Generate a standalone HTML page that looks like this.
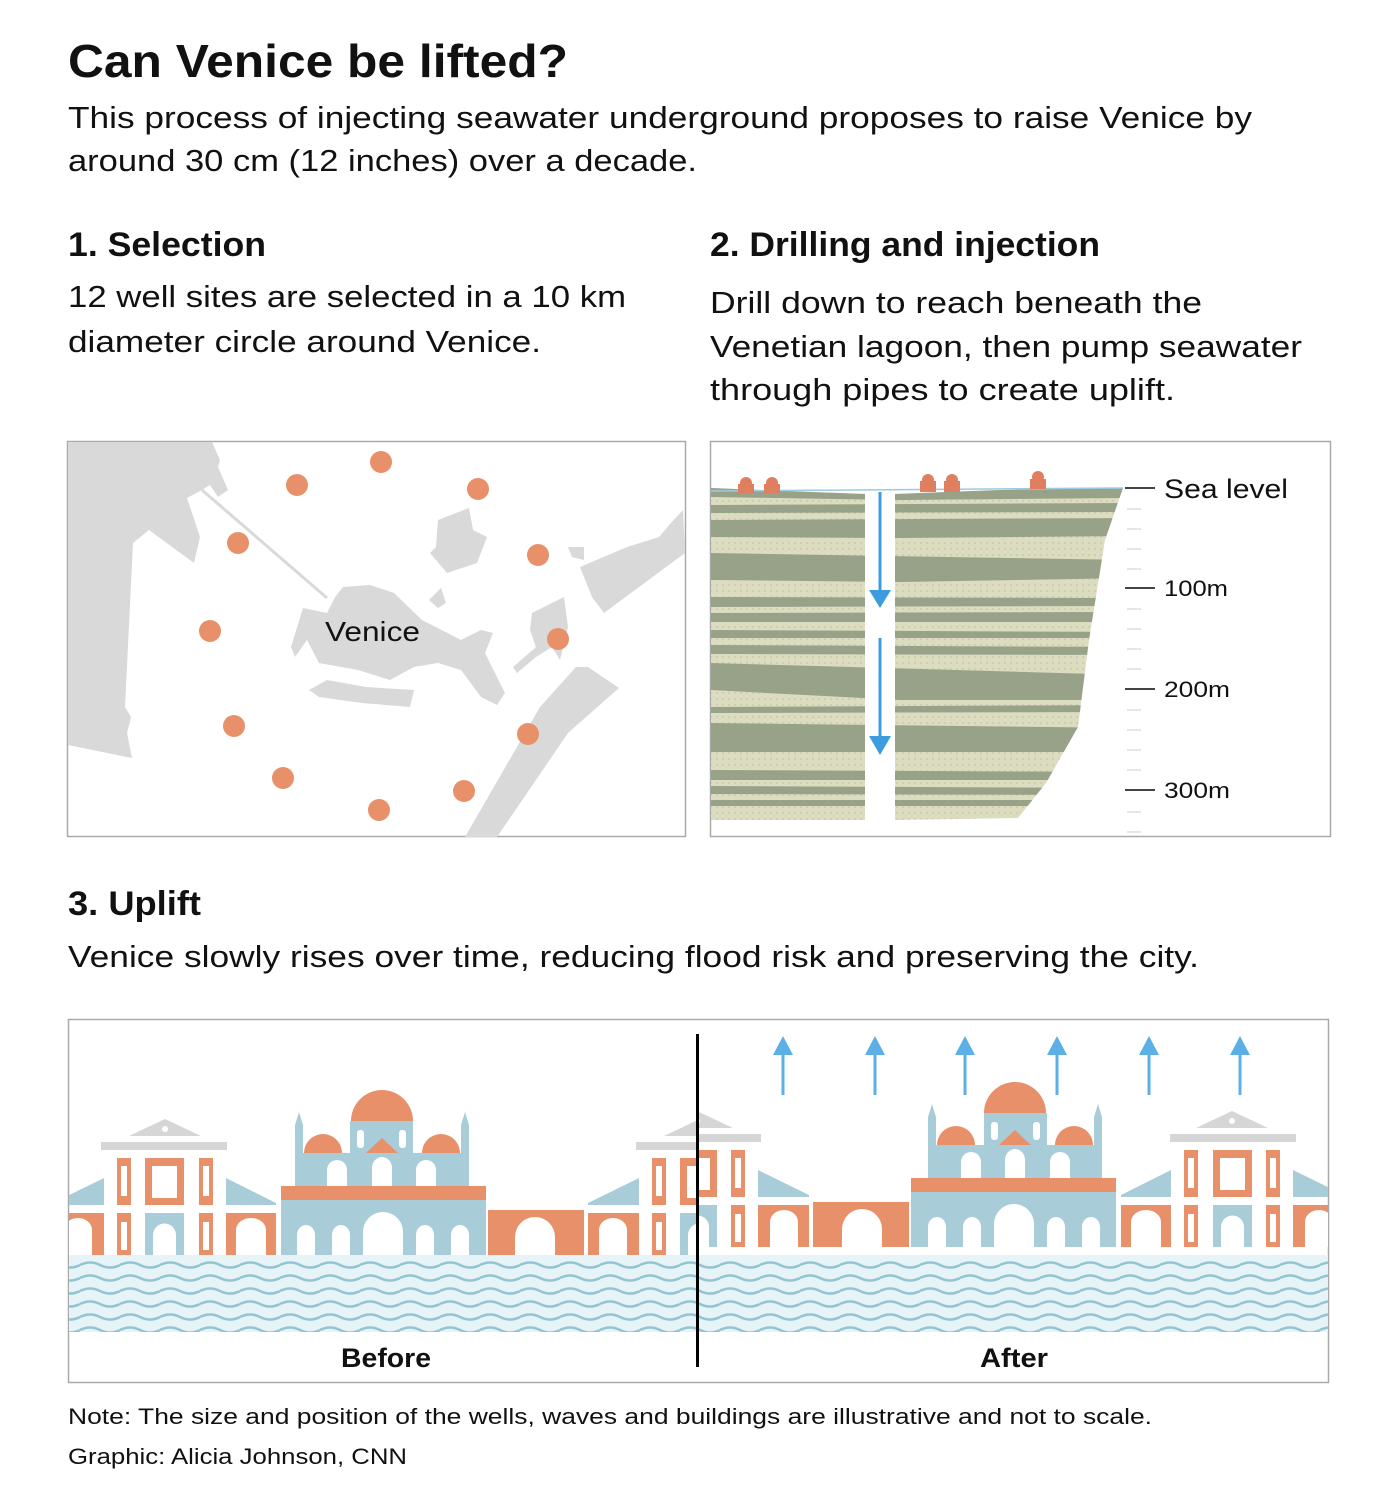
<!DOCTYPE html>
<html><head><meta charset="utf-8"><style>
html,body{margin:0;padding:0;background:#fff;}
svg{display:block;}
text{font-family:"Liberation Sans",sans-serif;fill:#111;}
</style></head><body>
<svg width="1398" height="1509" viewBox="0 0 1398 1509" xmlns="http://www.w3.org/2000/svg">
<defs>
<pattern id="dots" width="6" height="6" patternUnits="userSpaceOnUse">
<rect width="6" height="6" fill="#dcdcc0"/><circle cx="3" cy="3" r="0.9" fill="#c4c6a4"/>
</pattern>
<pattern id="wave" width="40" height="13" patternUnits="userSpaceOnUse" y="1259">
<path d="M0 6 Q10 1 20 6 T40 6" fill="none" stroke="#93c4d2" stroke-width="2.6"/>
</pattern>
<clipPath id="geo">
<path d="M711 488 L760 490 L865 494 L865 820 L711 820 Z"/>
<path d="M895 494 L1000 490 L1123 488 L1105 540 L1089 640 L1078 727 L1046 783 L1018 818 L895 820 Z"/>
</clipPath>
<clipPath id="cb"><rect x="69" y="1020" width="628" height="362"/></clipPath>
<clipPath id="ca"><rect x="697" y="1020" width="631" height="362"/></clipPath>
<g id="palace">
<polygon points="129,1136 165,1119 201,1136" fill="#d6d6d6"/>
<circle cx="165" cy="1129" r="3" fill="#fff"/>
<rect x="101" y="1142" width="126" height="8" fill="#d6d6d6"/>
<rect x="117" y="1158" width="14" height="47" fill="#e8906a"/>
<rect x="121" y="1166" width="6" height="30" fill="#fff"/>
<rect x="145" y="1158" width="39" height="47" fill="#e8906a"/>
<rect x="152" y="1166" width="25" height="32" fill="#fff"/>
<rect x="199" y="1158" width="14" height="47" fill="#e8906a"/>
<rect x="203" y="1166" width="6" height="30" fill="#fff"/>
<polygon points="53,1203 104,1178 104,1205 53,1205" fill="#a8cdd8"/>
<polygon points="226,1178 276,1203 276,1205 226,1205" fill="#a8cdd8"/>
<rect x="53" y="1213" width="51" height="42" fill="#e8906a"/>
<path d="M64 1255 V1230 A14 12 0 0 1 92 1230 V1255 Z" fill="#fff"/>
<rect x="117" y="1213" width="14" height="42" fill="#e8906a"/>
<rect x="121" y="1222" width="6" height="28" fill="#fff"/>
<rect x="145" y="1213" width="39" height="42" fill="#a8cdd8"/>
<path d="M153 1255 V1235 A11 11 0 0 1 176 1235 V1255 Z" fill="#fff"/>
<rect x="199" y="1213" width="14" height="42" fill="#e8906a"/>
<rect x="203" y="1222" width="6" height="28" fill="#fff"/>
<rect x="226" y="1213" width="50" height="42" fill="#e8906a"/>
<path d="M236 1255 V1230 A15 12 0 0 1 266 1230 V1255 Z" fill="#fff"/>
</g>
<g id="sky">
<use href="#palace"/>
<use href="#palace" transform="translate(535,0)"/>
<!-- church -->
<circle cx="382" cy="1121" r="31" fill="#e8906a"/>
<circle cx="323" cy="1153" r="19" fill="#e8906a"/>
<circle cx="441" cy="1153" r="19" fill="#e8906a"/>
<rect x="350" y="1121" width="63" height="32" fill="#a8cdd8"/>
<rect x="357" y="1130" width="7" height="18" rx="3" fill="#fff"/>
<rect x="399" y="1130" width="7" height="18" rx="3" fill="#fff"/>
<polygon points="366,1153 382,1138 398,1153" fill="#e8906a"/>
<path d="M295 1187 V1125 L299 1112 L303 1125 V1187 Z M461 1187 V1125 L465 1112 L469 1125 V1187 Z" fill="#a8cdd8"/>
<rect x="296" y="1153" width="172" height="34" fill="#a8cdd8"/>
<path d="M327 1187 V1170 A10 10 0 0 1 347 1170 V1187 Z M372 1187 V1168 A10 11 0 0 1 392 1168 V1187 Z M416 1187 V1170 A10 10 0 0 1 436 1170 V1187 Z" fill="#fff"/>
<rect x="281" y="1186" width="205" height="14" fill="#e8906a"/>
<rect x="281" y="1200" width="205" height="55" fill="#a8cdd8"/>
<path d="M297 1255 V1235 A9 10 0 0 1 315 1235 V1255 Z M332 1255 V1235 A9 10 0 0 1 350 1235 V1255 Z M363 1255 V1232 A20 20 0 0 1 403 1232 V1255 Z M416 1255 V1235 A9 10 0 0 1 434 1235 V1255 Z M451 1255 V1235 A9 10 0 0 1 469 1235 V1255 Z" fill="#fff"/>
<!-- bridge -->
<rect x="488" y="1210" width="96" height="45" fill="#e8906a"/>
<path d="M515 1255 V1237 A20 20 0 0 1 555 1237 V1255 Z" fill="#fff"/>
</g>
</defs>

<!-- Title & intro -->
<text x="68" y="77" font-size="46" font-weight="bold" textLength="500" lengthAdjust="spacingAndGlyphs">Can Venice be lifted?</text>
<text x="68" y="128" font-size="31" textLength="1184" lengthAdjust="spacingAndGlyphs">This process of injecting seawater underground proposes to raise Venice by</text>
<text x="68" y="171" font-size="31" textLength="629" lengthAdjust="spacingAndGlyphs">around 30 cm (12 inches) over a decade.</text>

<text x="68" y="256" font-size="34" font-weight="bold" textLength="198" lengthAdjust="spacingAndGlyphs">1. Selection</text>
<text x="710" y="256" font-size="34" font-weight="bold" textLength="390" lengthAdjust="spacingAndGlyphs">2. Drilling and injection</text>
<text x="68" y="307" font-size="31" textLength="558" lengthAdjust="spacingAndGlyphs">12 well sites are selected in a 10 km</text>
<text x="68" y="352" font-size="31" textLength="473" lengthAdjust="spacingAndGlyphs">diameter circle around Venice.</text>
<text x="710" y="313" font-size="31" textLength="492" lengthAdjust="spacingAndGlyphs">Drill down to reach beneath the</text>
<text x="710" y="357" font-size="31" textLength="592" lengthAdjust="spacingAndGlyphs">Venetian lagoon, then pump seawater</text>
<text x="710" y="400" font-size="31" textLength="465" lengthAdjust="spacingAndGlyphs">through pipes to create uplift.</text>

<!-- Map panel -->
<rect x="67.5" y="441.5" width="618" height="395" fill="#fff" stroke="#aaa" stroke-width="1.5"/>
<g fill="#d9d9d9">
<polygon points="68,442 212,442 220,460 218,467 228,490 218,497 210,485 202,490 187,498 200,537 194,563 149,530 133,543 125,707 131,717 127,733 132,758 68,745"/>
<polygon points="335,597 343,587 370,585 394,593 422,620 461,640 481,630 493,633 485,653 505,693 497,705 481,697 461,670 438,663 414,667 390,680 358,670 319,663 307,640 295,657 291,647 303,608 327,613"/>
<polygon points="309,690 327,680 366,687 414,690 410,707 362,703 319,697"/>
<polygon points="438,520 469,508 473,530 487,537 477,563 447,573 430,553 436,547"/>
<polygon points="429,600 441,588 446,603 438,608"/>
<polygon points="683,510 685,553 604,613 592,597 580,567 627,547 659,537 671,523"/>
<polygon points="568,547 584,547 584,560 572,557"/>
<polygon points="532,613 564,597 568,627 560,660 552,647 536,657 517,673 513,667 536,647 530,630"/>
<polygon points="540,707 576,667 588,667 619,688 568,733 497,837 465,837"/>
</g>
<line x1="202" y1="490" x2="327" y2="598" stroke="#d9d9d9" stroke-width="3"/>
<g fill="#e8906a">
<circle cx="381" cy="462" r="11"/><circle cx="297" cy="485" r="11"/><circle cx="478" cy="489" r="11"/>
<circle cx="238" cy="543" r="11"/><circle cx="538" cy="555" r="11"/><circle cx="210" cy="631" r="11"/>
<circle cx="558" cy="639" r="11"/><circle cx="234" cy="726" r="11"/><circle cx="528" cy="734" r="11"/>
<circle cx="283" cy="778" r="11"/><circle cx="464" cy="791" r="11"/><circle cx="379" cy="810" r="11"/>
</g>
<text x="325" y="641" font-size="28" textLength="95" lengthAdjust="spacingAndGlyphs">Venice</text>

<!-- Geology panel -->
<rect x="710.5" y="441.5" width="620" height="395" fill="#fff" stroke="#aaa" stroke-width="1.5"/>
<g clip-path="url(#geo)">
<rect x="711" y="480" width="420" height="345" fill="url(#dots)"/>
<g fill="#98a288">
<polygon points="711,488 1130,488 1130,498 900,500 711,497"/>
<polygon points="711,505 1130,503 1130,512 711,513"/>
<polygon points="711,520 1130,518 1130,536 900,538 711,537"/>
<polygon points="711,553 1130,560 1130,578 900,582 711,580"/>
<polygon points="711,597 1130,598 1130,606 711,607"/>
<polygon points="711,613 1130,612 1130,622 711,622"/>
<polygon points="711,630 1130,632 1130,638 711,638"/>
<polygon points="711,645 1130,647 1130,655 711,654"/>
<polygon points="711,663 1130,675 1130,700 900,700 711,690"/>
<polygon points="711,707 1130,705 1130,712 711,713"/>
<polygon points="711,723 1130,728 1130,752 900,752 711,752"/>
<polygon points="711,770 1130,772 1130,780 711,780"/>
<polygon points="711,786 1130,788 1130,795 711,794"/>
<polygon points="711,800 1130,800 1130,806 711,806"/>
</g>
</g>
<line x1="711" y1="491" x2="1123" y2="488" stroke="#9ccbe0" stroke-width="1.5"/>
<g fill="#e07f5f">
<circle cx="746" cy="483" r="6"/><rect x="738" y="484" width="16" height="9"/>
<circle cx="772" cy="483" r="6"/><rect x="764" y="484" width="16" height="9"/>
<circle cx="928" cy="480" r="6"/><rect x="920" y="481" width="16" height="11"/>
<circle cx="952" cy="480" r="6"/><rect x="944" y="481" width="16" height="11"/>
<circle cx="1038" cy="477" r="6"/><rect x="1030" y="479" width="16" height="10"/>
</g>
<g stroke="#3d9be0" stroke-width="3" fill="#3d9be0">
<line x1="880" y1="492" x2="880" y2="595"/><polygon points="869,590 891,590 880,608" stroke="none"/>
<line x1="880" y1="638" x2="880" y2="740"/><polygon points="869,736 891,736 880,755" stroke="none"/>
</g>
<g stroke="#ddd" stroke-width="1.5">
<line x1="1127" y1="509" x2="1141" y2="509"/><line x1="1127" y1="529" x2="1141" y2="529"/><line x1="1127" y1="549" x2="1141" y2="549"/><line x1="1127" y1="569" x2="1141" y2="569"/>
<line x1="1127" y1="609" x2="1141" y2="609"/><line x1="1127" y1="629" x2="1141" y2="629"/><line x1="1127" y1="649" x2="1141" y2="649"/><line x1="1127" y1="669" x2="1141" y2="669"/>
<line x1="1127" y1="710" x2="1141" y2="710"/><line x1="1127" y1="730" x2="1141" y2="730"/><line x1="1127" y1="750" x2="1141" y2="750"/><line x1="1127" y1="770" x2="1141" y2="770"/>
<line x1="1127" y1="812" x2="1141" y2="812"/><line x1="1127" y1="832" x2="1141" y2="832"/>
</g>
<g stroke="#444" stroke-width="2">
<line x1="1125" y1="488" x2="1155" y2="488"/><line x1="1125" y1="588" x2="1155" y2="588"/>
<line x1="1125" y1="689" x2="1155" y2="689"/><line x1="1125" y1="790" x2="1155" y2="790"/>
</g>
<text x="1164" y="498" font-size="27" textLength="124" lengthAdjust="spacingAndGlyphs">Sea level</text>
<text x="1164" y="596" font-size="22" textLength="64" lengthAdjust="spacingAndGlyphs">100m</text>
<text x="1164" y="697" font-size="22" textLength="66" lengthAdjust="spacingAndGlyphs">200m</text>
<text x="1164" y="798" font-size="22" textLength="66" lengthAdjust="spacingAndGlyphs">300m</text>

<!-- Uplift -->
<text x="68" y="915" font-size="34" font-weight="bold" textLength="133" lengthAdjust="spacingAndGlyphs">3. Uplift</text>
<text x="68" y="967" font-size="31" textLength="1131" lengthAdjust="spacingAndGlyphs">Venice slowly rises over time, reducing flood risk and preserving the city.</text>

<rect x="68.5" y="1019.5" width="1260" height="363" fill="#fff" stroke="#aaa" stroke-width="1.5"/>
<g clip-path="url(#cb)"><use href="#sky"/></g>
<g clip-path="url(#ca)"><use href="#sky" transform="translate(1397,-8) scale(-1,1)"/></g>
<rect x="69" y="1255" width="1259" height="77" fill="#e6f3f7"/>
<rect x="69" y="1259" width="1259" height="73" fill="url(#wave)"/>
<g stroke="#5db0e6" stroke-width="3" fill="#5db0e6">
<line x1="783" y1="1095" x2="783" y2="1050"/><polygon points="773,1055 793,1055 783,1036" stroke="none"/>
<line x1="875" y1="1095" x2="875" y2="1050"/><polygon points="865,1055 885,1055 875,1036" stroke="none"/>
<line x1="965" y1="1095" x2="965" y2="1050"/><polygon points="955,1055 975,1055 965,1036" stroke="none"/>
<line x1="1057" y1="1095" x2="1057" y2="1050"/><polygon points="1047,1055 1067,1055 1057,1036" stroke="none"/>
<line x1="1149" y1="1095" x2="1149" y2="1050"/><polygon points="1139,1055 1159,1055 1149,1036" stroke="none"/>
<line x1="1240" y1="1095" x2="1240" y2="1050"/><polygon points="1230,1055 1250,1055 1240,1036" stroke="none"/>
</g>
<line x1="697.5" y1="1034" x2="697.5" y2="1367" stroke="#000" stroke-width="3"/>
<text x="341" y="1367" font-size="27" font-weight="bold" textLength="90" lengthAdjust="spacingAndGlyphs">Before</text>
<text x="980" y="1367" font-size="27" font-weight="bold" textLength="68" lengthAdjust="spacingAndGlyphs">After</text>

<text x="68" y="1424" font-size="22" textLength="1084" lengthAdjust="spacingAndGlyphs">Note: The size and position of the wells, waves and buildings are illustrative and not to scale.</text>
<text x="68" y="1464" font-size="22" textLength="339" lengthAdjust="spacingAndGlyphs">Graphic: Alicia Johnson, CNN</text>
</svg>
</body></html>
